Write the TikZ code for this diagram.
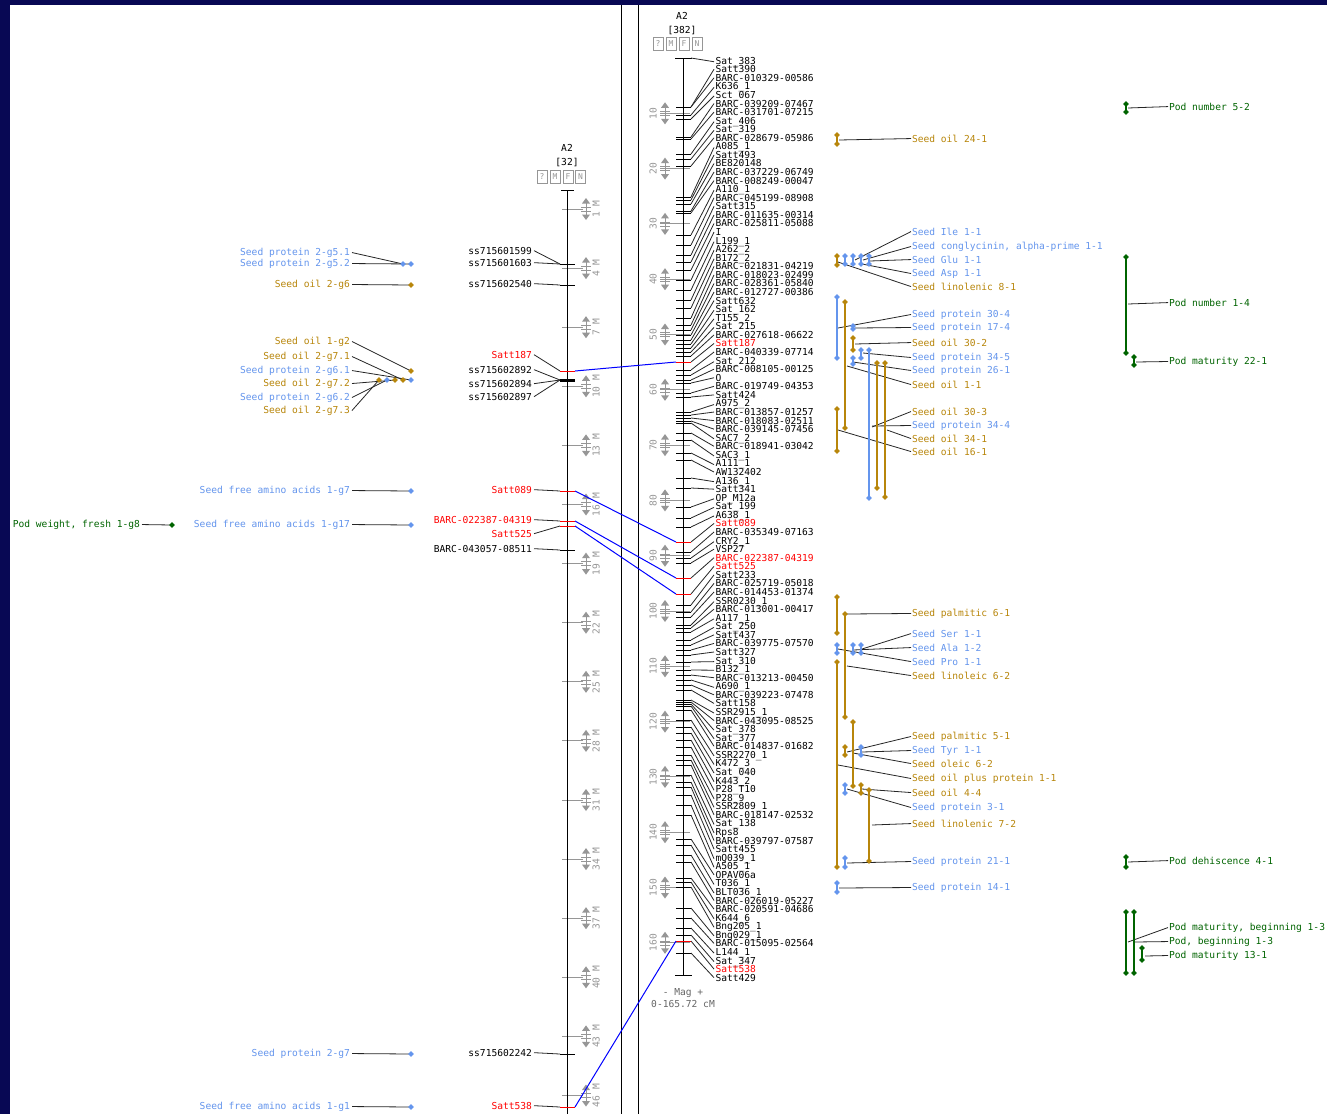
\documentclass[tikz,border=0pt]{standalone}
\usepackage{fontspec}
\newfontfamily\mapfont{DejaVu Sans Mono}

\definecolor{navy}{RGB}{8,8,84}
\definecolor{qblue}{RGB}{100,149,237}
\definecolor{qgold}{RGB}{184,134,11}
\definecolor{qgreen}{RGB}{0,100,0}
\definecolor{scalegray}{RGB}{150,150,150}
\definecolor{mred}{RGB}{255,0,0}

\newcommand{\qdia}[3]{\fill[#3] (#1,#2) +(-2.8,0) -- +(0,-2.8) -- +(2.8,0) -- +(0,2.8) -- cycle;}
\newcommand{\qtlbar}[4]{\draw[#4, line width=1.5pt] (#1,#2) -- (#1,#3); \qdia{#1}{#2}{#4} \qdia{#1}{#3}{#4}}
\newcommand{\scalemk}[2]{%
  \fill[scalegray] (#1-4,#2-5.5) -- (#1+4,#2-5.5) -- (#1,#2-11) -- cycle;
  \fill[scalegray] (#1-4,#2+5.5) -- (#1+4,#2+5.5) -- (#1,#2+11) -- cycle;
  \draw[scalegray] (#1,#2-6) -- (#1,#2+6) (#1-5,#2-2) -- (#1+5,#2-2) (#1-5,#2+2) -- (#1+5,#2+2);}

\begin{document}
\begin{tikzpicture}[x=1pt, y=-1pt,
  every node/.style={font=\mapfont\fontsize{9.6}{10}\selectfont, inner sep=0pt},
  mk/.style={anchor=mid west, outer sep=1.5pt},
  mkl/.style={anchor=mid east, outer sep=2pt},
  qt/.style={anchor=mid west, outer sep=1pt},
  ql/.style={anchor=mid east, outer sep=2pt},
  cn/.style={black!85, line width=0.8pt},
  tick/.style={line width=1pt},
  sc/.style={scalegray, line width=1pt},
  bx/.style={draw=scalegray, text=scalegray, minimum width=10pt, minimum height=13pt, line width=0.8pt, font=\mapfont\fontsize{8}{8}\selectfont},
  corr/.style={blue, line width=1pt}]
\useasboundingbox (0,0) rectangle (1327,1114);
\fill[navy] (0,0) rectangle (1327,1114);
\fill[white] (10,5) rectangle (1327,1114);
\draw[line width=1pt] (621,5) -- (621,1114);
\draw[line width=1pt] (638,5) -- (638,1114);

% left map
\node (ltitle) at (567,148) {A2};
\node (lcount) at (567,162) {[32]};
\node[bx] (lq) at (542,176.5) {?};
\node[bx] (lm) at (555,176.5) {M};
\node[bx] (lf) at (568,176.5) {F};
\node[bx] (ln) at (580.5,176.5) {N};
\foreach \k in {0,...,15}{
  \pgfmathsetmacro\sy{209+59.1*\k}
  \pgfmathtruncatemacro\v{3*\k+1}
  \draw[sc] (562,\sy) -- (583,\sy);
  \scalemk{586}{\sy}
  \node[text=scalegray, rotate=90] (lsc\k) at (596,\sy) {\v\ M};
}
\draw[line width=1pt] (567,190) -- (567,1114);
\draw[line width=1pt] (561,190) -- (574,190);

\node[mkl] (ss1599) at (534,252) {ss715601599};
\node[mkl] (ss1603) at (534,264) {ss715601603};
\node[mkl] (ss2540) at (534,285) {ss715602540};
\node[mkl, text=mred] (lsatt187) at (534,356) {Satt187};
\node[mkl] (ss2892) at (534,371) {ss715602892};
\node[mkl] (ss2894) at (534,385) {ss715602894};
\node[mkl] (ss2897) at (534,398) {ss715602897};
\node[mkl, text=mred] (lsatt089) at (534,491) {Satt089};
\node[mkl, text=mred] (lbarc22387) at (534,521) {BARC-022387-04319};
\node[mkl, text=mred] (lsatt525) at (534,535) {Satt525};
\node[mkl] (lbarc43057) at (534,550) {BARC-043057-08511};
\node[mkl] (ss2242) at (534,1054) {ss715602242};
\node[mkl, text=mred] (lsatt538) at (534,1107) {Satt538};
\foreach \n/\y in {ss1599/264, ss1603/264, ss2540/285, lsatt187/371, ss2892/380, ss2894/380, ss2897/380, lsatt089/491, lbarc22387/521, lsatt525/526, lbarc43057/550, ss2242/1054, lsatt538/1107}{
  \coordinate (\n-t) at (560,\y);
  \draw[cn] (\n.east) -- (\n-t);
}
\foreach \y/\c in {264/black, 285/black, 550/black, 1054/black, 371/mred, 491/mred, 521/mred, 526/mred, 1107/mred}
  {\draw[tick, \c] (560,\y) -- (575,\y);}
\draw[line width=3pt] (560,380) -- (575,380);
\coordinate (lr187) at (575,371);
\coordinate (lr089) at (575,491);
\coordinate (lr22387) at (575,521);
\coordinate (lr525) at (575,526);
\coordinate (lr538) at (575,1107);

\node[ql, text=qblue] (p251) at (352,253) {Seed protein 2-g5.1};
\node[ql, text=qblue] (p252) at (352,264) {Seed protein 2-g5.2};
\node[ql, text=qgold] (o26) at (352,285) {Seed oil 2-g6};
\node[ql, text=qgold] (o12) at (352,342) {Seed oil 1-g2};
\node[ql, text=qgold] (o271) at (352,357) {Seed oil 2-g7.1};
\node[ql, text=qblue] (p261) at (352,371) {Seed protein 2-g6.1};
\node[ql, text=qgold] (o272) at (352,384) {Seed oil 2-g7.2};
\node[ql, text=qblue] (p262) at (352,398) {Seed protein 2-g6.2};
\node[ql, text=qgold] (o273) at (352,411) {Seed oil 2-g7.3};
\node[ql, text=qblue] (a17) at (352,491) {Seed free amino acids 1-g7};
\node[ql, text=qblue] (a117) at (352,525) {Seed free amino acids 1-g17};
\node[ql, text=qgreen] (pw18) at (142,525) {Pod weight, fresh 1-g8};
\node[ql, text=qblue] (p27) at (352,1054) {Seed protein 2-g7};
\node[ql, text=qblue] (a11) at (352,1107) {Seed free amino acids 1-g1};
\foreach \n/\x/\y in {p251/403/264, p252/411/264, o26/411/285, o12/411/371, o271/403/380, p261/411/380, o272/395/380, p262/387/380, o273/379/380, a17/411/491, a117/411/525, pw18/172/525, p27/411/1054, a11/411/1107}{
  \coordinate (\n-d) at (\x,\y);
  \draw[cn] (\n.east) -- (\n-d);
}
\foreach \x/\y/\c in {403/264/qblue, 411/264/qblue, 411/285/qgold, 411/371/qgold, 379/380/qgold, 387/380/qblue, 395/380/qgold, 403/380/qgold, 411/380/qblue, 411/491/qblue, 411/525/qblue, 172/525/qgreen, 411/1054/qblue, 411/1107/qblue}
  {\qdia{\x}{\y}{\c}}

% right map
\node (rtitle) at (682,16) {A2};
\node (rcount) at (682,30) {[382]};
\node[bx] (rq) at (658,43.5) {?};
\node[bx] (rm) at (671,43.5) {M};
\node[bx] (rf) at (684,43.5) {F};
\node[bx] (rn) at (697,43.5) {N};
\foreach \k in {1,...,16}{
  \pgfmathsetmacro\sy{58+55.3*\k}
  \draw[sc] (660,\sy) -- (690,\sy);
  \scalemk{665}{\sy}
  \node[text=scalegray, rotate=90] (rsc\k) at (653,\sy) {\k0};
}
\draw[line width=1pt] (683,58) -- (683,975);
\draw[line width=1pt] (675,58) -- (692,58);
\draw[line width=1pt] (675,975) -- (692,975);
\node[text=black!60] (mag) at (683,993) {- Mag +};
\node[text=black!60] (range) at (683,1004) {0-165.72 cM};

\foreach \i/\lab/\ty/\c in {0/Sat\_383/58/black, 1/Satt390/107/black, 2/BARC-010329-00586/107/black, 3/K636\_1/115/black, 4/Sct\_067/119/black, 5/BARC-039209-07467/137/black, 6/BARC-031701-07215/139/black, 7/Sat\_406/154/black, 8/Sat\_319/159/black, 9/BARC-028679-05986/166/black,
  10/A085\_1/197/black, 11/Satt493/200/black, 12/BE820148/204/black, 13/BARC-037229-06749/211/black, 14/BARC-008249-00047/213/black, 15/A110\_1/235/black, 16/BARC-045199-08908/245/black, 17/Satt315/255/black, 18/BARC-011635-00314/262/black, 19/BARC-025811-05088/270/black,
  20/I/280/black, 21/L199\_1/290/black, 22/A262\_2/300/black, 23/B172\_2/308/black, 24/BARC-021831-04219/318/black, 25/BARC-018023-02499/325/black, 26/BARC-028361-05840/330/black, 27/BARC-012727-00386/335/black, 28/Satt632/340/black, 29/Sat\_162/344/black,
  30/T155\_2/348/black, 31/Sat\_215/352/black, 32/BARC-027618-06622/356/black, 33/Satt187/362/mred, 34/BARC-040339-07714/370/black, 35/Sat\_212/375/black, 36/BARC-008105-00125/380/black, 37/O/383/black, 38/BARC-019749-04353/393/black, 39/Satt424/397/black,
  40/A975\_2/412/black, 41/BARC-013857-01257/415/black, 42/BARC-018083-02511/418/black, 43/BARC-039145-07456/421/black, 44/SAC7\_2/423/black, 45/BARC-018941-03042/433/black, 46/SAC3\_1/440/black, 47/A111\_1/453/black, 48/AW132402/460/black, 49/A136\_1/478/black,
  50/Satt341/488/black, 51/OP\_M12a/507/black, 52/Sat\_199/518/black, 53/A638\_1/527/black, 54/Satt089/542/mred, 55/BARC-035349-07163/552/black, 56/CRY2\_1/558/black, 57/VSP27/563/black, 58/BARC-022387-04319/578/mred, 59/Satt525/594/mred,
  60/Satt233/605/black, 61/BARC-025719-05018/612/black, 62/BARC-014453-01374/617/black, 63/SSR0230\_1/625/black, 64/BARC-013001-00417/628/black, 65/A117\_1/632/black, 66/Sat\_250/640/black, 67/Satt437/645/black, 68/BARC-039775-07570/650/black, 69/Satt327/655/black,
  70/Sat\_310/662/black, 71/B132\_1/670/black, 72/BARC-013213-00450/675/black, 73/A690\_1/680/black, 74/BARC-039223-07478/685/black, 75/Satt158/690/black, 76/SSR2915\_1/700/black, 77/BARC-043095-08525/702/black, 78/Sat\_378/704/black, 79/Sat\_377/706/black,
  80/BARC-014837-01682/710/black, 81/SSR2270\_1/720/black, 82/K472\_3/727/black, 83/Sat\_040/733/black, 84/K443\_2/740/black, 85/P28\_T10/747/black, 86/P28\_9/755/black, 87/SSR2809\_1/760/black, 88/BARC-018147-02532/765/black, 89/Sat\_138/775/black,
  90/Rps8/782/black, 91/BARC-039797-07587/787/black, 92/Satt455/795/black, 93/mQ039\_1/805/black, 94/A505\_1/815/black, 95/OPAV06a/839/black, 96/T036\_1/845/black, 97/BLT036\_1/855/black, 98/BARC-026019-05227/862/black, 99/BARC-020591-04686/878/black,
  100/K644\_6/882/black, 101/Bng205\_1/887/black, 102/Bng029\_1/908/black, 103/BARC-015095-02564/918/black, 104/L144\_1/928/black, 105/Sat\_347/935/black, 106/Satt538/941/mred, 107/Satt429/953/black}{
  \pgfmathsetmacro\ly{62+8.57*\i}
  \node[mk, text=\c] (m\i) at (714,\ly) {\lab};
  \coordinate (tl\i) at (676,\ty);
  \coordinate (tr\i) at (691,\ty);
  \draw[tick, \c] (tl\i) -- (tr\i);
  \draw[cn] (tr\i) -- (m\i.west);
}

\draw[corr] (lr187) -- (tl33);
\draw[corr] (lr089) -- (tl54);
\draw[corr] (lr22387) -- (tl58);
\draw[corr] (lr525) -- (tl59);
\draw[corr] (lr538) -- (tl106);

% QTL column
\node[qt, text=qgold] (o241) at (911,140) {Seed oil 24-1};
\node[qt, text=qblue] (ile) at (911,233) {Seed Ile 1-1};
\node[qt, text=qblue] (cong) at (911,247) {Seed conglycinin, alpha-prime 1-1};
\node[qt, text=qblue] (glu) at (911,261) {Seed Glu 1-1};
\node[qt, text=qblue] (asp) at (911,274) {Seed Asp 1-1};
\node[qt, text=qgold] (ln81) at (911,288) {Seed linolenic 8-1};
\node[qt, text=qblue] (p304) at (911,315) {Seed protein 30-4};
\node[qt, text=qblue] (p174) at (911,328) {Seed protein 17-4};
\node[qt, text=qgold] (o302) at (911,344) {Seed oil 30-2};
\node[qt, text=qblue] (p345) at (911,358) {Seed protein 34-5};
\node[qt, text=qblue] (p261r) at (911,371) {Seed protein 26-1};
\node[qt, text=qgold] (o11) at (911,386) {Seed oil 1-1};
\node[qt, text=qgold] (o303) at (911,413) {Seed oil 30-3};
\node[qt, text=qblue] (p344) at (911,426) {Seed protein 34-4};
\node[qt, text=qgold] (o341) at (911,440) {Seed oil 34-1};
\node[qt, text=qgold] (o161) at (911,453) {Seed oil 16-1};
\node[qt, text=qgold] (pa61) at (911,614) {Seed palmitic 6-1};
\node[qt, text=qblue] (ser) at (911,635) {Seed Ser 1-1};
\node[qt, text=qblue] (ala) at (911,649) {Seed Ala 1-2};
\node[qt, text=qblue] (pro) at (911,663) {Seed Pro 1-1};
\node[qt, text=qgold] (le62) at (911,677) {Seed linoleic 6-2};
\node[qt, text=qgold] (pa51) at (911,737) {Seed palmitic 5-1};
\node[qt, text=qblue] (tyr) at (911,751) {Seed Tyr 1-1};
\node[qt, text=qgold] (ol62) at (911,765) {Seed oleic 6-2};
\node[qt, text=qgold] (opp) at (911,779) {Seed oil plus protein 1-1};
\node[qt, text=qgold] (o44) at (911,794) {Seed oil 4-4};
\node[qt, text=qblue] (p31) at (911,808) {Seed protein 3-1};
\node[qt, text=qgold] (ln72) at (911,825) {Seed linolenic 7-2};
\node[qt, text=qblue] (p211) at (911,862) {Seed protein 21-1};
\node[qt, text=qblue] (p141) at (911,888) {Seed protein 14-1};

\node[qt, text=qgreen] (pn52) at (1168,108) {Pod number 5-2};
\node[qt, text=qgreen] (pn14) at (1168,304) {Pod number 1-4};
\node[qt, text=qgreen] (pm221) at (1168,362) {Pod maturity 22-1};
\node[qt, text=qgreen] (pd41) at (1168,862) {Pod dehiscence 4-1};
\node[qt, text=qgreen] (pmb13) at (1168,928) {Pod maturity, beginning 1-3};
\node[qt, text=qgreen] (pb13) at (1168,942) {Pod, beginning 1-3};
\node[qt, text=qgreen] (pm131) at (1168,956) {Pod maturity 13-1};

\foreach \n/\x/\y in {o241/839/140, ile/855/260, cong/863/260, glu/870/261, asp/862/264, ln81/838/262, p304/838/328, p174/855/328, o302/855/344, p345/863/353, p261r/853/362, o11/847/366, o303/872/427, p344/872/426, o341/887/430, o161/838/430,
  pa61/847/614, ser/862/649, ala/853/650, pro/838/649, le62/847/666, pa51/847/752, tyr/862/752, ol62/853/753, opp/838/765, o44/862/789, p31/847/789, ln72/872/825, p211/847/863, p141/839/888,
  pn52/1128/108, pn14/1128/304, pm221/1136/362, pd41/1128/862, pmb13/1128/942, pb13/1135/942, pm131/1145/956}{
  \coordinate (\n-s) at (\x,\y);
  \draw[cn] (\n-s) -- (\n.west);
}

\foreach \x/\ya/\yb in {837/135/144, 837/256/265, 845/302/428, 853/338/350, 877/363/488, 885/363/497, 837/409/451, 837/597/633, 845/614/717, 837/662/867, 853/722/786, 845/747/755, 861/785/793, 869/790/861}
  {\qtlbar{\x}{\ya}{\yb}{qgold}}
\foreach \x/\ya/\yb in {845/256/264, 853/256/264, 861/256/264, 869/256/264, 837/297/358, 853/326/329, 861/350/358, 869/350/498, 853/358/364, 837/645/653, 853/645/653, 861/645/653, 861/747/755, 845/785/793, 845/858/867, 837/883/892}
  {\qtlbar{\x}{\ya}{\yb}{qblue}}
\foreach \x/\ya/\yb in {1126/104/112, 1126/257/353, 1134/357/365, 1126/857/867, 1126/912/973, 1134/912/973, 1142/948/960}
  {\qtlbar{\x}{\ya}{\yb}{qgreen}}
\end{tikzpicture}
\end{document}
